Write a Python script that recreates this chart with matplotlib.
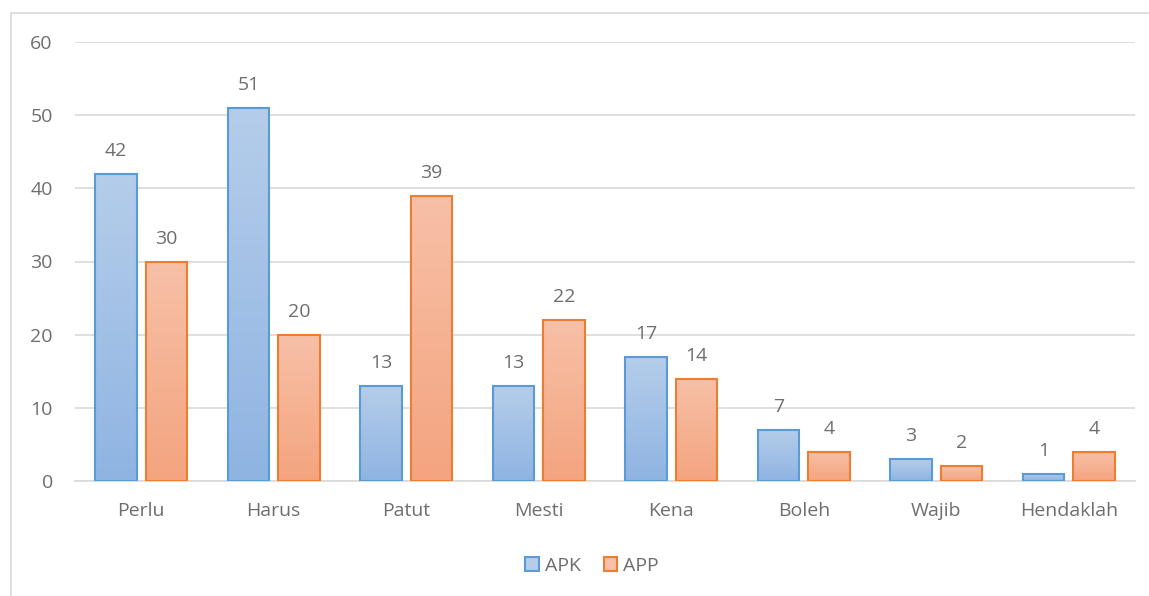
import matplotlib
matplotlib.use("Agg")
import matplotlib.pyplot as plt
from matplotlib.colors import LinearSegmentedColormap
from matplotlib.patches import Rectangle
import numpy as np

plt.rcParams.update({'font.size': 14, 'font.family': ['Open Sans', 'DejaVu Sans']})

categories = ["Perlu", "Harus", "Patut", "Mesti", "Kena", "Boleh", "Wajib", "Hendaklah"]
apk = [42, 51, 13, 13, 17, 7, 3, 1]
app = [30, 20, 39, 22, 14, 4, 2, 4]
series = [("APK", apk), ("APP", app)]

# top colour, bottom colour, edge colour
styles = {
    "APK": ("#b5cdea", "#8fb4e2", "#5b9bd5"),
    "APP": ("#f7c0a7", "#f4a47f", "#ed7d31"),
}
textCol = "#6e6e6e"

fig = plt.figure(figsize=(11.49, 5.96), dpi=100)
ax = fig.add_axes([75 / 1149, 1 - 481 / 596, 1060 / 1149, 439 / 596])

# chart border (only left/top visible in the reference)
fig.patches.append(Rectangle((11 / 1149, -0.1), 1.2, 1 - 13 / 596 + 0.1, transform=fig.transFigure,
                             fill=False, edgecolor="#d9d9d9", linewidth=1.2, zorder=0))

x = np.arange(len(categories))
width = 0.315
offsets = [-0.19, 0.19]

for (name, vals), off in zip(series, offsets):
    top, bottom, edge = styles[name]
    cmap = LinearSegmentedColormap.from_list(name, [bottom, top])
    grad = np.linspace(0, 1, 256).reshape(-1, 1)
    for xi, v in zip(x, vals):
        x0 = xi + off - width / 2
        ax.imshow(grad, cmap=cmap, origin="lower", aspect="auto",
                  extent=(x0, x0 + width, 0, v), zorder=2, interpolation="bilinear")
        ax.add_patch(Rectangle((x0, 0), width, v, fill=False, edgecolor=edge, linewidth=1.5, zorder=3))
        ax.annotate(str(v), (xi + off, v), xytext=(0, 14), textcoords="offset pixels",
                    ha="center", va="bottom", color=textCol, fontsize=14)

ax.set_xlim(-0.5, len(categories) - 0.5)
ax.set_ylim(0, 60)
ax.set_yticks(range(0, 61, 10))
ax.set_xticks(x)
ax.set_xticklabels(categories)
ax.yaxis.grid(True, color="#d9d9d9", linewidth=1.2, zorder=0)
ax.set_axisbelow(True)
for s in ["top", "right", "left"]:
    ax.spines[s].set_visible(False)
ax.spines["bottom"].set_color("#d9d9d9")
ax.spines["bottom"].set_linewidth(1.2)
ax.tick_params(axis="both", length=0, colors=textCol, labelsize=14)
ax.tick_params(axis="y", pad=16)
ax.tick_params(axis="x", pad=15)

handles = [Rectangle((0, 0), 1, 1, facecolor=styles[n][0], edgecolor=styles[n][2], linewidth=1.5)
           for n, _ in series]
leg = fig.legend(handles, [n for n, _ in series], loc="center", bbox_to_anchor=(592 / 1149, 1 - 566 / 596),
                 ncol=2, frameon=False, handlelength=0.7, handleheight=0.7, handletextpad=0.3,
                 columnspacing=1.2, fontsize=14)
for t in leg.get_texts():
    t.set_color(textCol)

fig.savefig("out.png", dpi=100)
